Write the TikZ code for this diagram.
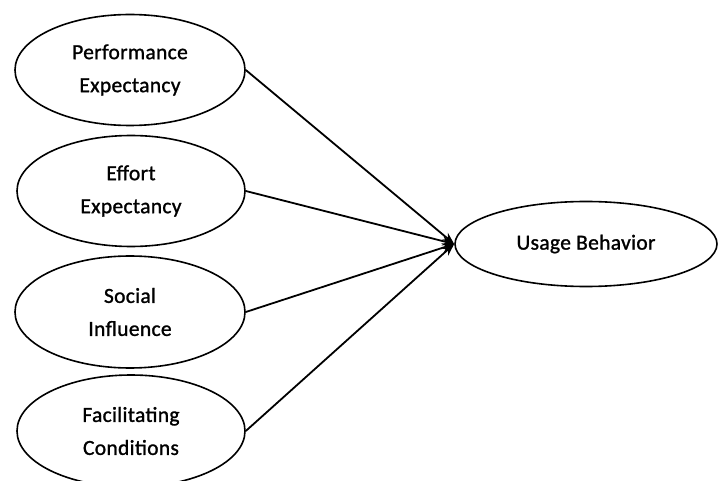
\documentclass[tikz,border=0pt]{standalone}
\usepackage{fontspec}
\setmainfont[FakeBold=1.2,LetterSpace=1.5]{Carlito}
\usetikzlibrary{shapes,arrows,arrows.meta}
\tikzstyle{arrow} = [line width=1.8pt,->,>={Stealth[length=12pt,width=9pt]}]
\tikzstyle{construct} = [draw, ellipse, line width=1.6pt, align=center,
    inner sep=0pt, font=\fontsize{21.5}{33}\selectfont]

\begin{document}
\begin{tikzpicture}[x=1pt,y=-1pt]
            \clip (0,0) rectangle (718,481);
            \node[construct, minimum width=230pt, minimum height=111pt]
                (pe) at (130,70) {Performance \\ Expectancy};
            \node[construct, minimum width=228pt, minimum height=111pt]
                (ee) at (131,191) {Effort \\ Expectancy};
            \node[construct, minimum width=230pt, minimum height=112pt]
                (si) at (130,312) {Social \\ Influence};
            \node[construct, minimum width=228pt, minimum height=112pt]
                (fc) at (131,431) {Facilitating \\ Conditions};
            \node[construct, minimum width=262pt, minimum height=85pt]
                (ub) at (586,244) {Usage Behavior};
            \draw[arrow] (pe.east) -- (ub.west);
            \draw[arrow] (ee.east) -- (ub.west);
            \draw[arrow] (si.east) -- (ub.west);
            \draw[arrow] (fc.east) -- (ub.west);
        \end{tikzpicture}
\end{document}
